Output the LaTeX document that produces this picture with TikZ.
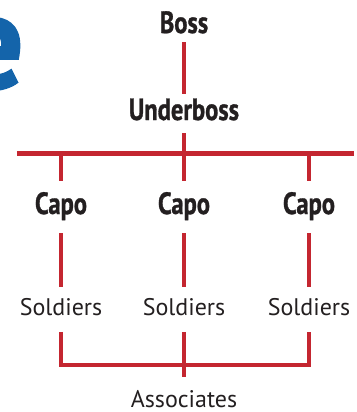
\documentclass[tikz,border=0pt]{standalone}
\usepackage{fontspec}
\setmainfont{PT Sans}
\newfontfamily\condfont[FakeStretch=0.8,FakeBold=1]{PT Sans}
\newfontfamily\titlefont[FakeBold=2]{PT Sans}
\definecolor{mobred}{RGB}{196,38,48}
\definecolor{titleblue}{RGB}{20,100,170}
\definecolor{ink}{RGB}{35,31,32}

\tikzset{
  rank/.style={font=\condfont\bfseries\fontsize{23}{23}\selectfont, text=ink,
    inner sep=0pt, text height=16.1pt, text depth=0pt, anchor=base},
  crew/.style={font=\fontsize{18}{18}\selectfont, text=ink,
    inner sep=0pt, text height=12.6pt, text depth=0pt, anchor=base},
  link/.style={draw=mobred, line width=3.5pt}
}

\begin{document}
\begin{tikzpicture}[x=0.75pt,y=-0.75pt]
    \useasboundingbox (0,0) rectangle (357,412);
    % Cut-off title letter
    \begin{scope}
      \clip (0,0) rectangle (357,412);
      \node[font=\titlefont\bfseries\fontsize{102}{102}\selectfont, text=titleblue,
        inner sep=0pt, anchor=base east] (title) at (24,88) {e};
    \end{scope}
    % Top of the chain
    \node[rank] (boss) at (184,33) {Boss};
    \node[rank] (uboss) at (184,120) {Underboss};
    \draw[link, shorten <=6.75pt, shorten >=3pt] (boss.south) -- (uboss.north);
    % Bar under the underboss
    \coordinate (barL) at (17,153.5);
    \coordinate (barR) at (354,153.5);
    \coordinate (join) at (184,365);
    \draw[link] (barL) -- (barR);
    \draw[link, shorten <=9.75pt] (uboss.south) -- (uboss.south |- barL);
    % Capos and their soldiers
    \foreach \i/\x in {1/61,2/184,3/309} {
      \node[rank] (capo\i) at (\x,214) {Capo};
      \node[crew] (sold\i) at (\x,315) {Soldiers};
      \draw[link, shorten >=8.25pt] (capo\i.north |- barL) -- (capo\i.north);
      \draw[link, shorten <=14.25pt, shorten >=8.25pt] (capo\i.south) -- (sold\i.north);
    }
    % Associates
    \node[crew] (assoc) at (184,407.5) {Associates};
    \draw[link, shorten <=12.5pt, shorten >=12.5pt]
      (sold1.south) -- (sold1.south |- join) -- (sold3.south |- join) -- (sold3.south);
    \draw[link, shorten <=12.5pt, shorten >=9.75pt] (sold2.south) -- (assoc.north);
\end{tikzpicture}
\end{document}
